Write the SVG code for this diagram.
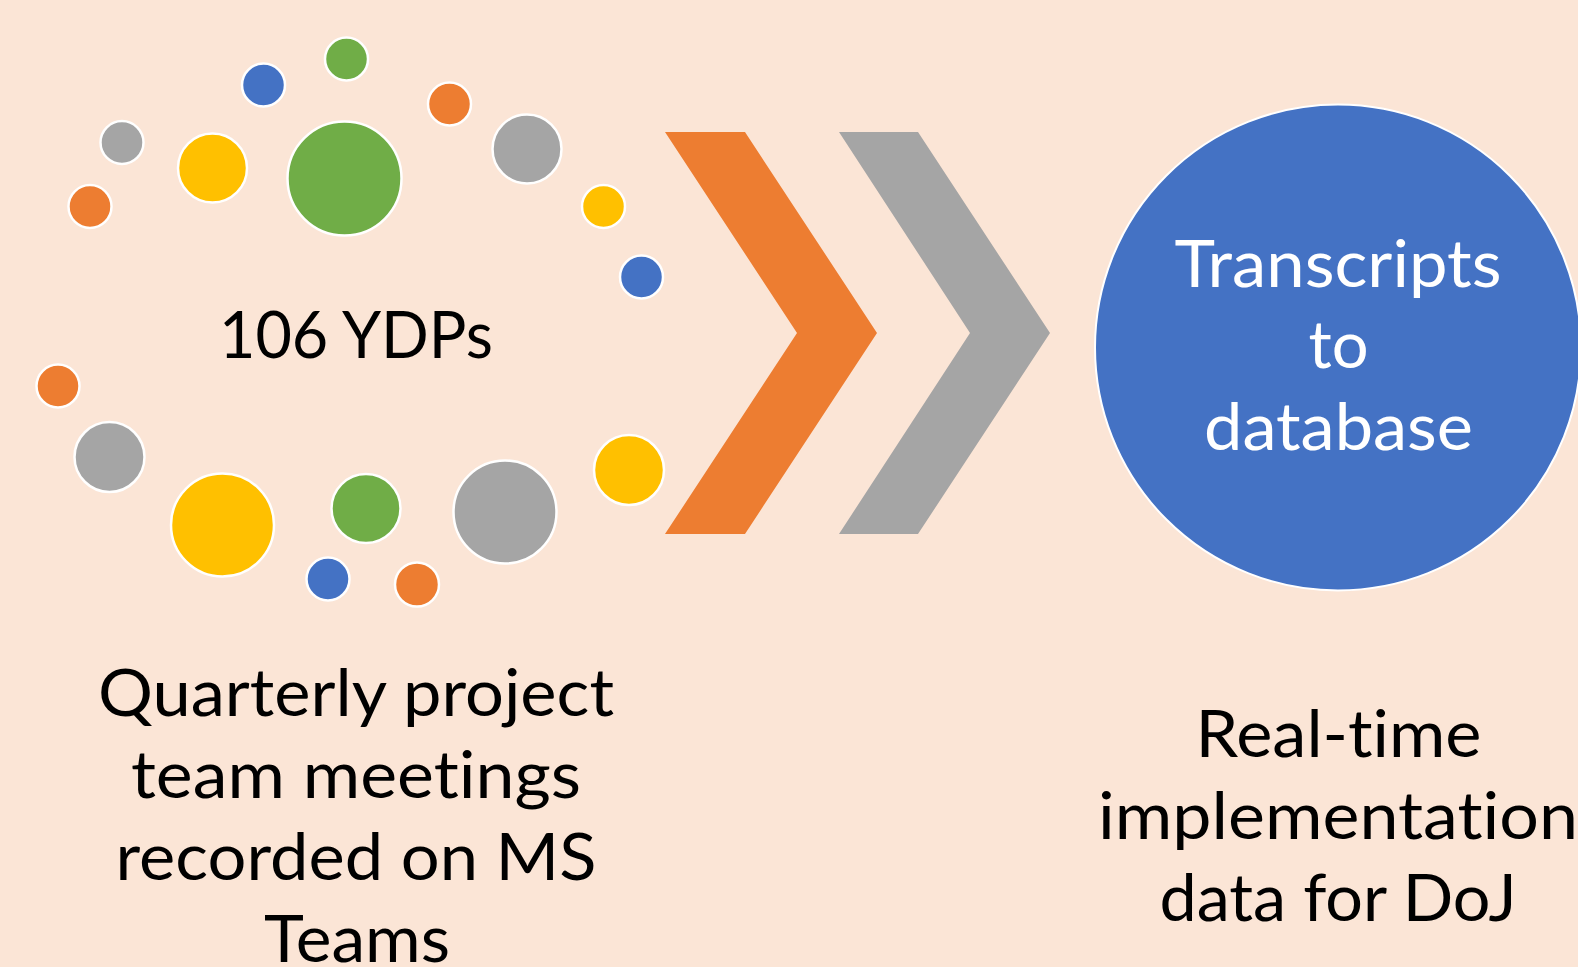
<svg xmlns="http://www.w3.org/2000/svg" width="1578" height="967" viewBox="0 0 1578 967">
<style>
.bg{fill:#FBE5D6}
.dot{stroke:#FFFFFF;stroke-width:2.5}
.o{fill:#ED7D31}.g{fill:#A5A5A5}.y{fill:#FFC000}.b{fill:#4472C4}.gr{fill:#70AD47}
.t{font-family:Lato,"Open Sans","Liberation Sans",sans-serif;font-size:65px;text-anchor:middle;fill:#000000;font-variant-ligatures:none;font-feature-settings:"liga" 0,"clig" 0}
.w{fill:#FFFFFF}
</style>
<rect class="bg" x="0" y="0" width="1578" height="967"/>
<g id="ydp-cluster">
<circle class="dot g" cx="122" cy="142.5" r="21.5"/>
<circle class="dot o" cx="90" cy="206.5" r="21.5"/>
<circle class="dot y" cx="212.5" cy="168" r="34.5"/>
<circle class="dot b" cx="263.5" cy="85" r="21.5"/>
<circle class="dot gr" cx="346.5" cy="59" r="21.5"/>
<circle class="dot gr" cx="344.5" cy="178.5" r="57"/>
<circle class="dot o" cx="449.5" cy="104" r="21.5"/>
<circle class="dot g" cx="527" cy="149" r="34.5"/>
<circle class="dot y" cx="603.5" cy="206.5" r="21.5"/>
<circle class="dot b" cx="641.5" cy="277" r="21.5"/>
<circle class="dot o" cx="58" cy="386" r="21.5"/>
<circle class="dot g" cx="109.5" cy="457" r="35"/>
<circle class="dot y" cx="222.5" cy="525" r="51.5"/>
<circle class="dot gr" cx="366" cy="508.5" r="34.5"/>
<circle class="dot b" cx="328" cy="579" r="21.5"/>
<circle class="dot o" cx="417" cy="584.5" r="22"/>
<circle class="dot g" cx="505" cy="512" r="51.5"/>
<circle class="dot y" cx="629" cy="470" r="35"/>
</g>
<g id="label-ydps">
<text class="t" x="356" y="358" textLength="274" lengthAdjust="spacingAndGlyphs">106 YDPs</text>
</g>
<g id="connectors">
<polygon id="chevron-orange" class="o" points="665,132 745,132 877,333 745,534 665,534 797,333"/>
<polygon id="chevron-gray" class="g" points="839,132 918,132 1050,333 918,534 839,534 970,333"/>
</g>
<g id="transcripts">
<circle class="b" cx="1338" cy="347.5" r="243" stroke="#FFFFFF" stroke-width="2"/>
<text class="t w" x="1338" y="287" textLength="327" lengthAdjust="spacingAndGlyphs">Transcripts</text>
<text class="t w" x="1338.5" y="368" textLength="60" lengthAdjust="spacingAndGlyphs">to</text>
<text class="t w" x="1338.5" y="450" textLength="269" lengthAdjust="spacingAndGlyphs">database</text>
</g>
<g id="label-meetings">
<text class="t" x="356" y="716" textLength="516" lengthAdjust="spacingAndGlyphs">Quarterly project</text>
<text class="t" x="356" y="798" textLength="450" lengthAdjust="spacingAndGlyphs">team meetings</text>
<text class="t" x="356" y="880" textLength="481" lengthAdjust="spacingAndGlyphs">recorded on MS</text>
<text class="t" x="357" y="962" textLength="186" lengthAdjust="spacingAndGlyphs">Teams</text>
</g>
<g id="label-realtime">
<text class="t" x="1338.5" y="757" textLength="286" lengthAdjust="spacingAndGlyphs">Real-time</text>
<text class="t" x="1338" y="839" textLength="480" lengthAdjust="spacingAndGlyphs">implementation</text>
<text class="t" x="1338" y="921" textLength="357" lengthAdjust="spacingAndGlyphs">data for DoJ</text>
</g>
</svg>
